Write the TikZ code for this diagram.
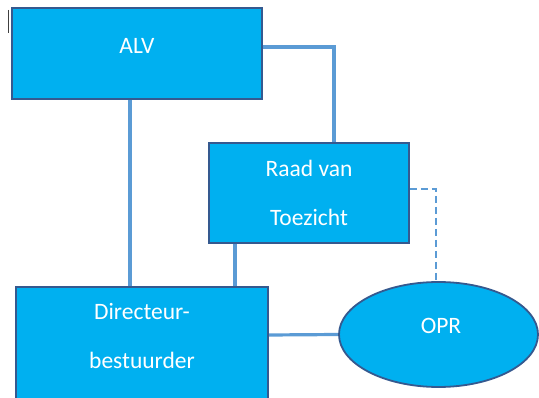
\documentclass[tikz,border=0pt]{standalone}
\usepackage{fontspec}
\setmainfont{Carlito}
\usetikzlibrary{shapes.geometric,backgrounds}
\definecolor{boxfill}{HTML}{00B0F0}
\definecolor{boxedge}{HTML}{35598F}
\definecolor{linkcol}{HTML}{5B9BD5}
\definecolor{cursorcol}{HTML}{404040}
\begin{document}
\begin{tikzpicture}[x=1pt,y=-1pt,
  box/.style={draw=boxedge,line width=1.8pt,fill=boxfill,rectangle,inner sep=0pt},
  oval/.style={draw=boxedge,line width=1.8pt,fill=boxfill,ellipse,inner sep=0pt},
  lbl/.style={text=white,font=\fontsize{23.5}{28}\selectfont,inner sep=0pt,anchor=center},
  link/.style={draw=linkcol,line width=3.2pt},
  dlink/.style={link,line width=2.6pt,dash pattern=on 7pt off 4pt}]
\useasboundingbox (0,0) rectangle (539,398);
\clip (0,0) rectangle (539,398);
% boxes
\node[box,minimum width=250pt,minimum height=91pt] (alv) at (137,53.5) {};
\node[box,minimum width=200pt,minimum height=100pt] (raad) at (309,193) {};
\node[box,minimum width=252pt,minimum height=133pt] (dir) at (142,353.5) {};
\node[oval,minimum width=199pt,minimum height=105pt] (opr) at (438.5,334.5) {};
% labels
\node[lbl] (alvt) at (137,46) {ALV};
\node[lbl] (raadt1) at (309,168) {Raad van};
\node[lbl] (raadt2) at (309,217) {Toezicht};
\node[lbl] (dirt1) at (142,312) {Directeur-};
\node[lbl] (dirt2) at (142,360) {bestuurder};
\node[lbl] (oprt) at (441,326) {OPR};
% helper coordinates
\coordinate (xa) at (130,0);
\coordinate (xr) at (334,0);
\coordinate (ya) at (0,47);
\coordinate (xb) at (235,0);
\coordinate (xd) at (436,0);
\coordinate (yd) at (0,189);
\coordinate (yo) at (0,335);
\coordinate (cur1) at (8,10);
\coordinate (cur2) at (8,33);
% connectors
\begin{scope}[on background layer]
\draw[link] (alv.south -| xa) -- (dir.north -| xa);
\draw[link] (alv.east |- ya) -- (xr |- ya) -- (raad.north -| xr);
\draw[link] (raad.south -| xb) -- (dir.north -| xb);
\draw[dlink] (raad.east |- yd) -- (xd |- yd) -- (opr.north -| xd);
\draw[link] (dir.east |- yo) -- (opr.west);
\end{scope}
% text cursor mark
\draw[cursorcol,line width=1pt] (cur1) -- (cur2);
\end{tikzpicture}
\end{document}
